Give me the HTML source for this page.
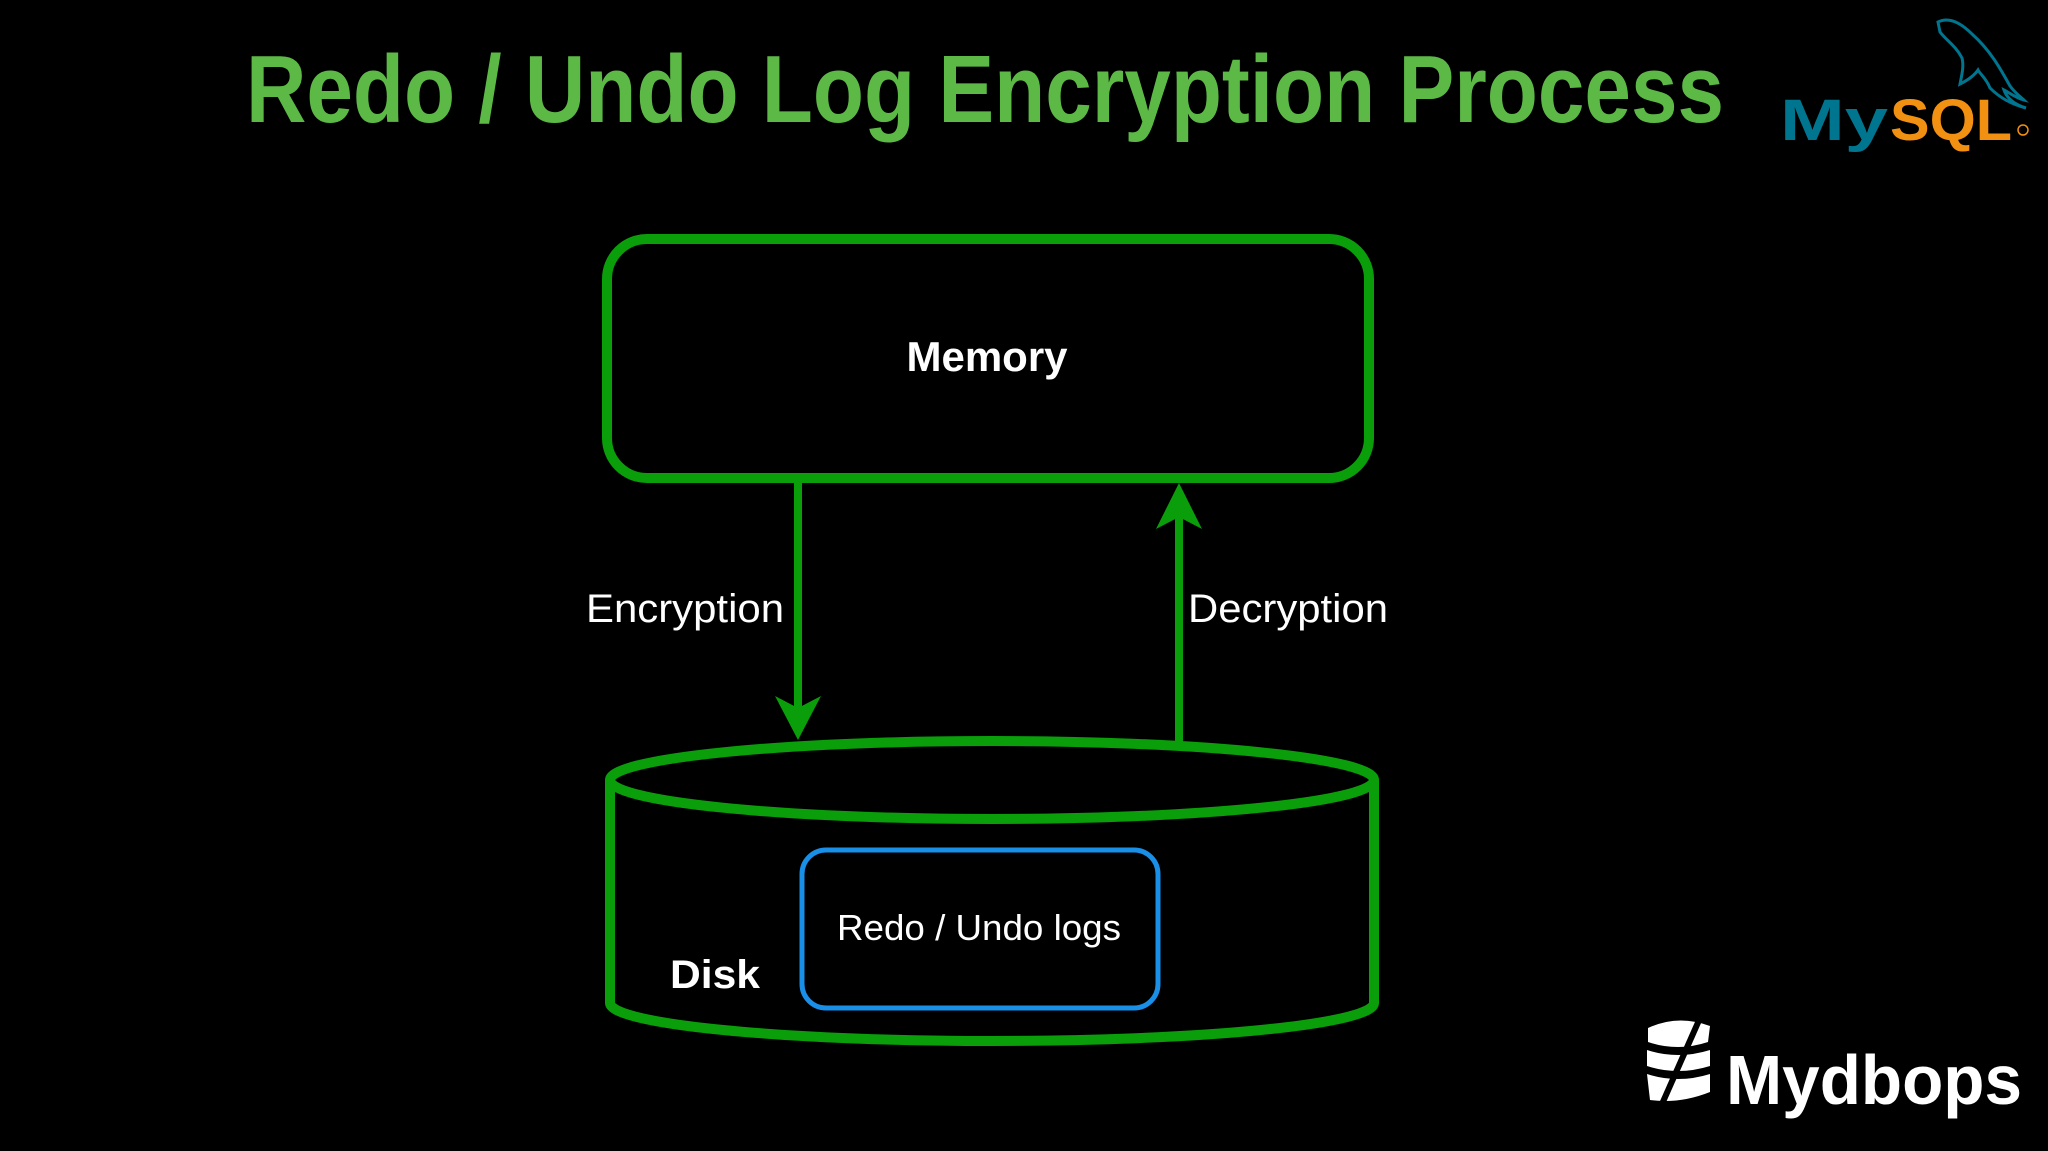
<!DOCTYPE html>
<html><head><meta charset="utf-8"><style>
html,body{margin:0;padding:0;background:#000;}
svg{display:block;}
</style></head><body>
<svg width="2048" height="1151" viewBox="0 0 2048 1151" xmlns="http://www.w3.org/2000/svg">
<rect width="2048" height="1151" fill="#000"/>
<text x="246" y="122" font-family="Liberation Sans, sans-serif" font-weight="bold" font-size="96" fill="#5cb946" textLength="1478" lengthAdjust="spacingAndGlyphs">Redo / Undo Log Encryption Process</text>

<!-- MySQL logo -->
<path d="M1938 22 C1950 16 1962 24 1972 34 C1990 50 2000 68 2010 86 C2016 94 2022 98 2024 100 C2016 98 2008 92 2004 90 C2006 96 2012 104 2026 108 C2010 104 1998 96 1990 88 C1986 78 1980 74 1978 70 C1974 76 1968 80 1960 84 C1962 74 1964 66 1962 58 C1956 46 1946 40 1940 32 Z" fill="none" stroke="#00758f" stroke-width="3"/>
<text x="1780" y="140" font-family="Liberation Sans, sans-serif" font-weight="bold" font-size="58" fill="#00758f" textLength="108" lengthAdjust="spacingAndGlyphs">My</text>
<text x="1890" y="140" font-family="Liberation Sans, sans-serif" font-weight="bold" font-size="58" fill="#f29111" textLength="122" lengthAdjust="spacingAndGlyphs">SQL</text>
<circle cx="2023" cy="130" r="5" fill="none" stroke="#f29111" stroke-width="1.5"/>

<!-- Memory box -->
<rect x="607" y="239" width="762" height="239" rx="40" fill="none" stroke="#0a9e0a" stroke-width="10"/>
<text x="987" y="371" text-anchor="middle" font-family="Liberation Sans, sans-serif" font-weight="bold" font-size="42" fill="#fff">Memory</text>

<!-- arrows -->
<line x1="798" y1="478" x2="798" y2="710" stroke="#0a9e0a" stroke-width="8"/>
<path d="M775 696 L798 740 L821 696 L798 708 Z" fill="#0a9e0a"/>
<line x1="1179" y1="742" x2="1179" y2="510" stroke="#0a9e0a" stroke-width="8"/>
<path d="M1156 529 L1179 483 L1202 529 L1179 517 Z" fill="#0a9e0a"/>
<text x="586" y="622" font-family="Liberation Sans, sans-serif" font-size="40" fill="#fff" textLength="198" lengthAdjust="spacingAndGlyphs">Encryption</text>
<text x="1188" y="622" font-family="Liberation Sans, sans-serif" font-size="40" fill="#fff" textLength="200" lengthAdjust="spacingAndGlyphs">Decryption</text>

<!-- Cylinder -->
<path d="M610 780 L610 1003 A382 38 0 0 0 1374 1003 L1374 780" fill="none" stroke="#0a9e0a" stroke-width="10"/>
<ellipse cx="992" cy="780" rx="382" ry="39" fill="none" stroke="#0a9e0a" stroke-width="10"/>
<rect x="802" y="850" width="356" height="158" rx="24" fill="none" stroke="#1a8fe8" stroke-width="5"/>
<text x="979" y="940" text-anchor="middle" font-family="Liberation Sans, sans-serif" font-size="36" fill="#fff" textLength="284" lengthAdjust="spacingAndGlyphs">Redo / Undo logs</text>
<text x="670" y="988" font-family="Liberation Sans, sans-serif" font-weight="bold" font-size="40" fill="#fff" textLength="90" lengthAdjust="spacingAndGlyphs">Disk</text>

<!-- Mydbops logo -->
<g fill="#fff">
<path d="M1648 1028 Q1678 1014 1710 1026 L1708 1042 Q1678 1052 1648 1042 Z"/>
<path d="M1647 1050 Q1678 1060 1710 1050 L1710 1066 Q1678 1076 1647 1066 Z"/>
<path d="M1647 1074 Q1678 1084 1710 1074 L1710 1092 Q1680 1104 1650 1100 Z"/>
</g>
<line x1="1662" y1="1104" x2="1700" y2="1018" stroke="#000" stroke-width="6"/>
<text x="1726" y="1104" font-family="Liberation Sans, sans-serif" font-weight="bold" font-size="70" fill="#fff" textLength="296" lengthAdjust="spacingAndGlyphs">Mydbops</text>
</svg>
</body></html>
